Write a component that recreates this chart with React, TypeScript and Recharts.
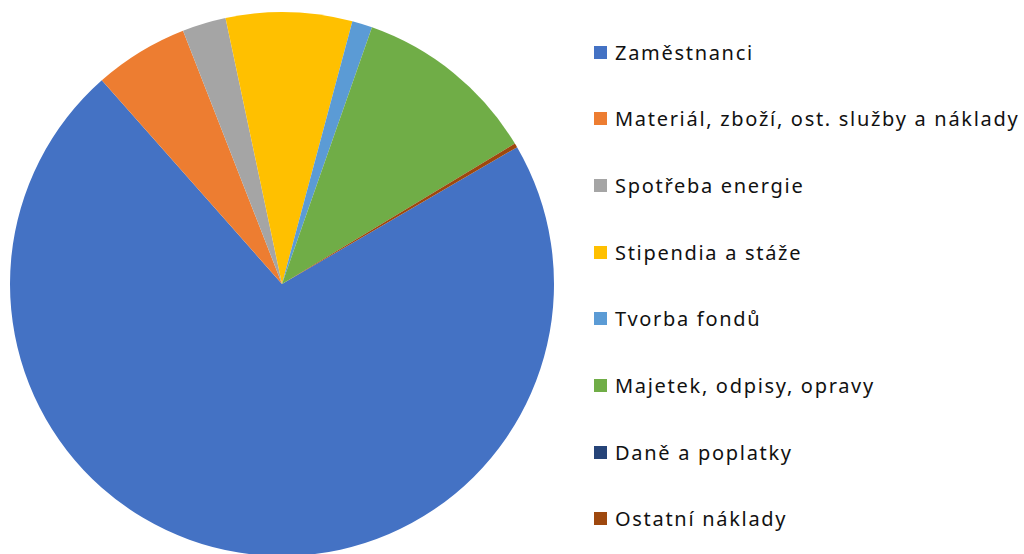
import { PieChart, Pie, Cell, Legend } from "recharts"

const categories = [
  "Zaměstnanci",
  "Materiál, zboží, ost. služby a náklady",
  "Spotřeba energie",
  "Stipendia a stáže",
  "Tvorba fondů",
  "Majetek, odpisy, opravy",
  "Daně a poplatky",
  "Ostatní náklady",
]

const shares = [71.9, 5.6, 2.6, 7.5, 1.2, 11.0, 0.0, 0.25]

const colors = ["#4472C4", "#ED7D31", "#A5A5A5", "#FFC000", "#5B9BD5", "#70AD47", "#264478", "#9E480E"]

const data = categories.map((name, i) => ({ name, value: shares[i] }))

const renderLegend = () => (
  <div style={{ position: "relative", width: 430, height: 554 }}>
    {categories.map((name, i) => (
      <div
        key={name}
        style={{
          position: "absolute",
          left: 0,
          top: 52 + i * 66.7 - 14,
          height: 28,
          display: "flex",
          alignItems: "center",
          whiteSpace: "nowrap",
          fontFamily: "'Noto Sans', sans-serif",
          fontSize: 20,
          letterSpacing: 1.7,
          color: "#111",
        }}
      >
        <span style={{ display: "inline-block", width: 13, height: 13, background: colors[i], marginRight: 8 }} />
        {name}
      </div>
    ))}
  </div>
)

const App = () => {
  return (
    <div style={{ position: "absolute", left: 0, top: 0, width: 1024, height: 554, background: "#fff" }}>
      <PieChart width={1024} height={554} margin={{ top: 0, right: 0, bottom: 0, left: 0 }}>
        <Pie
          data={data}
          dataKey="value"
          nameKey="name"
          cx={282}
          cy={284}
          outerRadius={272}
          startAngle={30.2}
          endAngle={-329.8}
          stroke="none"
          isAnimationActive={false}
        >
          {data.map((d, i) => (
            <Cell key={d.name} fill={colors[i]} />
          ))}
        </Pie>
        <Legend
          content={renderLegend}
          wrapperStyle={{ left: 594, top: 0, width: 430, height: 554 }}
        />
      </PieChart>
    </div>
  )
}

export default App
